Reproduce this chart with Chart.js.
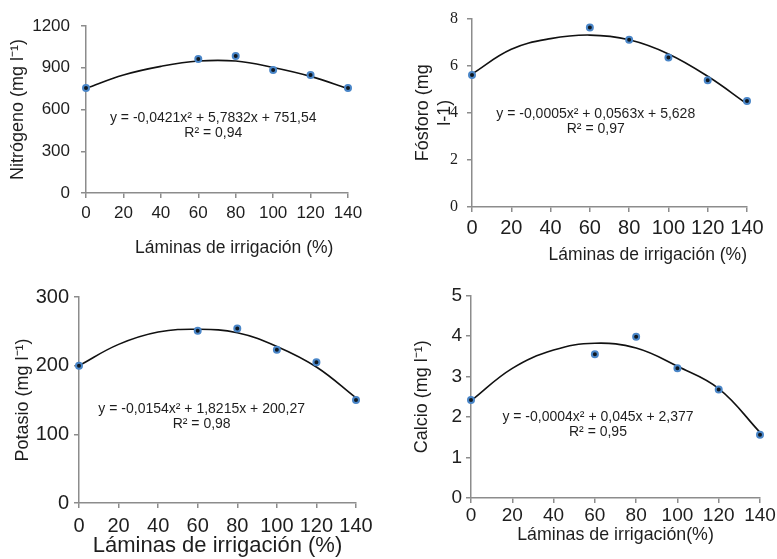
<!DOCTYPE html>
<html>
<head>
<meta charset="utf-8">
<script src="https://cdn.jsdelivr.net/npm/chart.js@4.4.1/dist/chart.umd.min.js"></script>
<style>
  html, body { margin: 0; padding: 0; background: #fff; }
  body { width: 777px; height: 559px; position: relative; overflow: hidden; }
  .panel { position: absolute; }
</style>
</head>
<body>
<div class="panel" style="left:0px;top:0px;width:388px;height:275px"><canvas id="nitro"></canvas></div>
<div class="panel" style="left:390px;top:0px;width:387px;height:275px"><canvas id="fosforo"></canvas></div>
<div class="panel" style="left:0px;top:280px;width:388px;height:279px"><canvas id="potasio"></canvas></div>
<div class="panel" style="left:390px;top:280px;width:387px;height:279px"><canvas id="calcio"></canvas></div>
<script>
// irrigation levels (%) where samples were taken
const laminas = [0, 60, 80, 100, 120, 140];
// x positions used to trace the fitted curve
const laminasCurva = [0, 20, 40, 60, 80, 100, 120, 140];
const xTicks = [0, 20, 40, 60, 80, 100, 120, 140];

const nitrogeno = [755, 962, 984, 884, 848, 754];
const fosforo = [5.6, 7.62, 7.1, 6.35, 5.38, 4.5];
const potasio = [200, 251, 254, 223, 205, 150];
const calcio = [2.42, 3.55, 3.98, 3.2, 2.68, 1.56];

// fitted quadratic trend
const nitrogenoAjuste = [752, 848, 910, 948, 948, 902, 838, 750];
const fosforoAjuste = [5.65, 6.7, 7.15, 7.3, 7.1, 6.5, 5.55, 4.38];
const potasioAjuste = [200, 231, 249, 253, 248, 228, 198, 153];
const calcioAjuste = [2.4, 3.2, 3.65, 3.82, 3.7, 3.25, 2.7, 1.62];

const ecuaciones = {
  nitro: ["y = -0,0421x² + 5,7832x + 751,54", "R² = 0,94"],
  fosforo: ["y = -0,0005x² + 0,0563x + 5,628", "R² = 0,97"],
  potasio: ["y = -0,0154x² + 1,8215x + 200,27", "R² = 0,98"],
  calcio: ["y = -0,0004x² + 0,045x + 2,377", "R² = 0,95"]
};

const textColor = "#1e1e1e";
const axisColor = "#8c8c8c";
const sans = "'Liberation Sans', Arial, sans-serif";
const serif = "'Liberation Serif', 'Times New Roman', serif";

// writes the regression equation in the plot, anchored in data units
const equationPlugin = {
  id: "equation",
  afterDatasetsDraw(chart, args, opts) {
    const {ctx, scales} = chart;
    const px = scales.x.getPixelForValue(opts.x);
    const py = scales.y.getPixelForValue(opts.y);
    ctx.save();
    ctx.font = `14px ${sans}`;
    ctx.fillStyle = textColor;
    ctx.textAlign = "center";
    ctx.textBaseline = "middle";
    opts.lines.forEach((line, i) => ctx.fillText(line, px, py + i * 15));
    ctx.restore();
  }
};

const toPoints = (xs, ys) => xs.map((x, i) => ({x: x, y: ys[i]}));

const makeChart = (id, p) => {
  const node = document.getElementById(id);
  const w = node.parentNode.clientWidth;
  const h = node.parentNode.clientHeight;
  const yLine = 18 * 1.2;
  return new Chart(node, {
    type: "line",
    data: {
      datasets: [
        {
          data: toPoints(laminas, p.values),
          showLine: false,
          pointRadius: 3,
          pointBorderWidth: 2,
          pointBackgroundColor: "#101820",
          pointBorderColor: "#4a86c8",
          clip: false,
          order: 0
        },
        {
          data: toPoints(laminasCurva, p.fit),
          borderColor: "#111",
          borderWidth: 1.6,
          pointRadius: 0,
          tension: 0.4,
          clip: false,
          order: 1
        }
      ]
    },
    options: {
      responsive: true,
      maintainAspectRatio: false,
      animation: false,
      events: [],
      layout: {
        padding: {left: 0, top: p.area.top, right: w - p.area.right, bottom: 0}
      },
      plugins: {
        legend: {display: false},
        tooltip: {enabled: false},
        equation: {x: p.eqX, y: p.eqY, lines: ecuaciones[id]}
      },
      scales: {
        x: {
          type: "linear",
          min: 0,
          max: 140,
          afterBuildTicks: (s) => { s.ticks = xTicks.map(v => ({value: v})); },
          afterFit: (s) => { s.height = h - p.area.bottom; },
          border: {color: axisColor, width: 1.5},
          grid: {drawOnChartArea: false, tickLength: 5, color: axisColor, lineWidth: 1.5},
          ticks: {
            color: textColor, padding: p.xPad, autoSkip: false, maxRotation: 0, minRotation: 0,
            callback: (v) => String(v),
            font: {family: sans, size: p.xFont}
          },
          title: {
            display: true,
            text: p.xTitle,
            align: p.xAlign,
            color: textColor,
            font: {family: sans, size: p.xTitleFont},
            padding: {top: 0, bottom: Math.max(0, h - p.xTitleY - p.xTitleFont * 0.6)}
          }
        },
        y: {
          min: 0,
          max: p.yMax,
          afterFit: (s) => { s.width = p.area.left; },
          border: {color: axisColor, width: 1.5},
          grid: {drawOnChartArea: false, tickLength: 5, color: axisColor, lineWidth: 1.5},
          ticks: {
            stepSize: p.yStep, color: textColor, padding: p.yPad,
            callback: (v) => String(v),
            font: {family: p.yFamily || sans, size: p.yFont}
          },
          title: {
            display: true,
            text: p.yTitle,
            color: textColor,
            font: {family: sans, size: 18},
            padding: {top: p.yTitleX - yLine / 2, bottom: 0}
          }
        }
      }
    },
    plugins: [equationPlugin]
  });
};

makeChart("nitro", {
  values: nitrogeno, fit: nitrogenoAjuste, yMax: 1200, yStep: 300,
  area: {left: 86, top: 26, right: 348, bottom: 193},
  xFont: 17, xPad: 5, yFont: 17, yPad: 11,
  xTitle: "Láminas de irrigación (%)   ", xAlign: "end", xTitleFont: 17.5, xTitleY: 248,
  yTitle: "Nitrógeno (mg l⁻¹)", yTitleX: 18,
  eqX: 68, eqY: 539
});
makeChart("fosforo", {
  values: fosforo, fit: fosforoAjuste, yMax: 8, yStep: 2,
  area: {left: 82, top: 17, right: 357, bottom: 207},
  xFont: 20, xPad: 4, yFont: 16, yPad: 9, yFamily: serif,
  xTitle: "Láminas de irrigación (%)", xAlign: "end", xTitleFont: 17.5, xTitleY: 255,
  yTitle: ["Fósforo (mg", "l-1)"], yTitleX: 33,
  eqX: 63, eqY: 3.96
});
makeChart("potasio", {
  values: potasio, fit: potasioAjuste, yMax: 300, yStep: 100,
  area: {left: 79, top: 14, right: 356, bottom: 223},
  xFont: 20, xPad: 6, yFont: 20, yPad: 5,
  xTitle: "Láminas de irrigación (%)", xAlign: "center", xTitleFont: 22, xTitleY: 267,
  yTitle: "Potasio (mg l⁻¹)", yTitleX: 23,
  eqX: 62, eqY: 136
});
makeChart("calcio", {
  values: calcio, fit: calcioAjuste, yMax: 5, yStep: 1,
  area: {left: 81, top: 14, right: 370, bottom: 218},
  xFont: 19, xPad: 1, yFont: 19, yPad: 4,
  xTitle: "Láminas de irrigación(%)", xAlign: "center", xTitleFont: 17.8, xTitleY: 255,
  yTitle: "Calcio (mg l⁻¹)", yTitleX: 32,
  eqX: 61.5, eqY: 1.99
});
</script>
</body>
</html>
